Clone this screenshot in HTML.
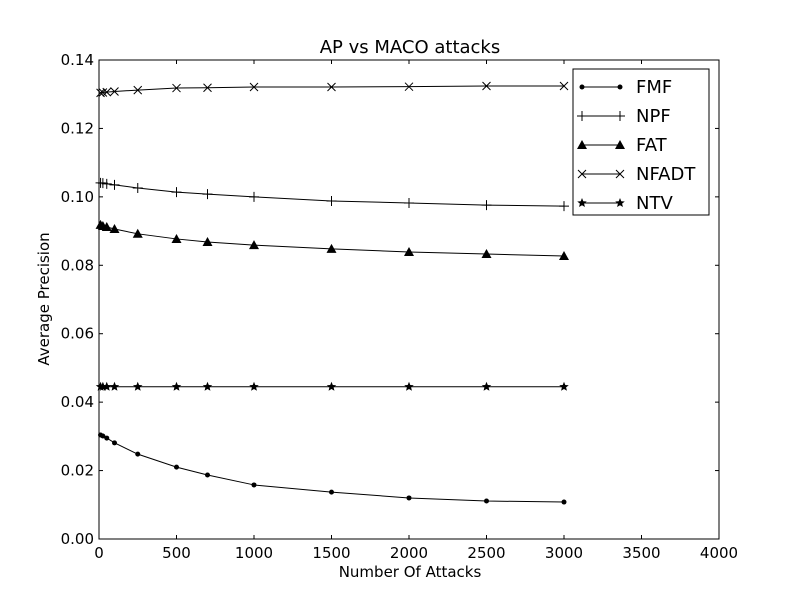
<!DOCTYPE html>
<html><head><meta charset="utf-8"><style>body{margin:0;background:#fff}svg{font-family:"DejaVu Sans","Liberation Sans",sans-serif}</style></head>
<body>
<svg id="c" width="800" height="600"></svg>
<script>
const xs=[10,25,50,100,250,500,700,1000,1500,2000,2500,3000];
const fmf=[0.0304,0.0301,0.0295,0.0281,0.0248,0.0210,0.0187,0.0158,0.0137,0.0120,0.0111,0.0108];
const npf=[0.1041,0.1040,0.1038,0.1035,0.1026,0.1014,0.1008,0.1000,0.0988,0.0982,0.0976,0.0973];
const fat=[0.0918,0.0915,0.0912,0.0906,0.0892,0.0877,0.0868,0.0859,0.0848,0.0839,0.0833,0.0827];
const nfadt=[0.1304,0.1305,0.1306,0.1308,0.1312,0.1318,0.1319,0.1321,0.1321,0.1322,0.1324,0.1324];
const ntv=[0.0445,0.0445,0.0445,0.0445,0.0445,0.0445,0.0445,0.0445,0.0445,0.0445,0.0445,0.0445];
const xticks=[0,500,1000,1500,2000,2500,3000,3500,4000];
const yticks=[0,0.02,0.04,0.06,0.08,0.10,0.12,0.14];
const names=["FMF","NPF","FAT","NFADT","NTV"];
const series=[fmf,npf,fat,nfadt,ntv];
const markers=["dot","plus","tri","x","star"];
const L=99,R=719,T=60,B=539;
const X=v=>L+(v/4000)*(R-L), Y=v=>B-(v/0.14)*(B-T);
const svg=document.getElementById('c');const NS="http://www.w3.org/2000/svg";
function el(t,a,p){const e=document.createElementNS(NS,t);for(const k in a)e.setAttribute(k,a[k]);(p||svg).appendChild(e);return e;}
function marker(m,x,y,g){
 if(m==="dot")return el('circle',{cx:x,cy:y,r:2.5,fill:'#000'},g);
 if(m==="plus")return el('path',{d:`M${x-5},${y}H${x+5}M${x},${y-5}V${y+5}`,stroke:'#000','stroke-width':1,fill:'none'},g);
 if(m==="tri")return el('path',{d:`M${x},${y-5}L${x+5},${y+4}L${x-5},${y+4}Z`,fill:'#000'},g);
 if(m==="x")return el('path',{d:`M${x-4},${y-4}L${x+4},${y+4}M${x-4},${y+4}L${x+4},${y-4}`,stroke:'#000','stroke-width':1,fill:'none'},g);
 let d="";for(let i=0;i<10;i++){const r=i%2?2.2:5,a=-Math.PI/2+i*Math.PI/5;d+=(i?"L":"M")+(x+r*Math.cos(a)).toFixed(2)+","+(y+r*Math.sin(a)).toFixed(2);}
 return el('path',{d:d+"Z",fill:'#000'},g);
}
const t=el('text',{x:410,y:53,'text-anchor':'middle','font-size':18});t.textContent="AP vs MACO attacks";


xticks.forEach(v=>{const x=X(v);el('line',{x1:x,x2:x,y1:B,y2:B-4,stroke:'#000'});el('line',{x1:x,x2:x,y1:T,y2:T+4,stroke:'#000'});
 const l=el('text',{x:x,y:B+19,'text-anchor':'middle','font-size':15});l.textContent=v;
 
 });
yticks.forEach(v=>{const y=Y(v);el('line',{x1:L,x2:L+4,y1:y,y2:y,stroke:'#000'});el('line',{x1:R,x2:R-4,y1:y,y2:y,stroke:'#000'});
 const l=el('text',{x:L-5,y:y+5,'text-anchor':'end','font-size':15});l.textContent=v.toFixed(2);
 
 });
series.forEach((s,i)=>{const g=el('g',{});
 
 
 el('polyline',{points:xs.map((x,j)=>X(x)+","+Y(s[j])).join(" "),fill:'none',stroke:'#000','stroke-width':1},g);
 xs.forEach((x,j)=>marker(markers[i],X(x),Y(s[j]),g));});
const fr=el('rect',{x:L,y:T,width:R-L,height:B-T,fill:'none',stroke:'#000'});


const xl=el('text',{x:410,y:577,'text-anchor':'middle','font-size':15});xl.textContent="Number Of Attacks";


const yl=el('text',{x:0,y:0,'text-anchor':'middle','font-size':15,transform:'translate(49,299) rotate(-90)'});yl.textContent="Average Precision";


const lg=el('g',{});


el('rect',{x:573,y:69,width:136,height:146,fill:'#fff',stroke:'#000'},lg);
names.forEach((n,i)=>{const y=87+i*29;const g=el('g',{},lg);
 
 
 el('line',{x1:582,x2:620,y1:y,y2:y,stroke:'#000'},g);marker(markers[i],582,y,g);marker(markers[i],620,y,g);
 const tx=el('text',{x:636,y:y+6,'font-size':18},g);tx.textContent=n;});
</script>
</body></html>
